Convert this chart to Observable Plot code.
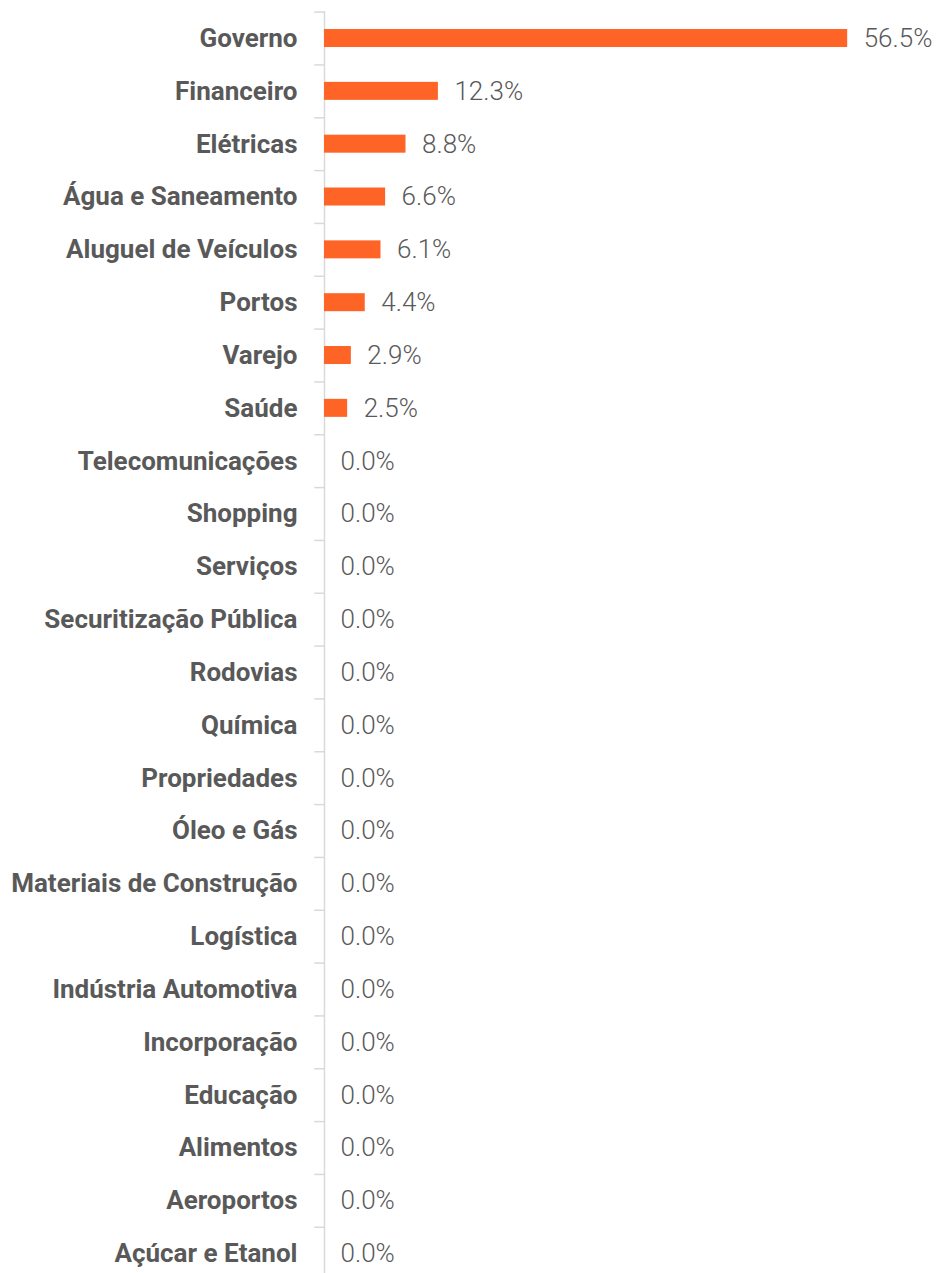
<!DOCTYPE html>
<html>
<head>
<meta charset="utf-8">
<script src="https://cdn.jsdelivr.net/npm/d3@7"></script>
<script src="https://cdn.jsdelivr.net/npm/@observablehq/plot@0.6"></script>
<style>
  html, body { margin: 0; padding: 0; background: #fff; overflow: hidden; }
  #chart { width: 936px; height: 1273px; }
</style>
</head>
<body>
<div id="chart"></div>
<script>
const categories = [
  "Governo", "Financeiro", "Elétricas", "Água e Saneamento", "Aluguel de Veículos",
  "Portos", "Varejo", "Saúde", "Telecomunicações", "Shopping", "Serviços",
  "Securitização Pública", "Rodovias", "Química", "Propriedades", "Óleo e Gás",
  "Materiais de Construção", "Logística", "Indústria Automotiva", "Incorporação",
  "Educação", "Alimentos", "Aeroportos", "Açúcar e Etanol"
];
const values = [56.5, 12.3, 8.8, 6.6, 6.1, 4.4, 2.9, 2.5, 0, 0, 0, 0, 0, 0, 0, 0, 0, 0, 0, 0, 0, 0, 0, 0];

const data = categories.map((c, i) => ({category: c, value: values[i]}));

const W = 936, H = 1273;
const yTop = 11.6, yBottom = 1279.6;
const step = (yBottom - yTop) / categories.length;
const barH = 18;
const x0 = 324, pxPerUnit = 9.26;
const xMax = 65;

const chart = Plot.plot({
  width: W,
  height: H,
  marginLeft: x0,
  marginTop: 11,
  marginBottom: 0,
  marginRight: 0,
  style: {color: "#595959", fontFamily: "Roboto, 'Noto Sans', sans-serif", background: "#fff"},
  x: {domain: [0, xMax], range: [x0, x0 + xMax * pxPerUnit], axis: null},
  y: {domain: categories, range: [yTop, yBottom], padding: 0, round: false, axis: null},
  marks: [
    Plot.ruleX([0], {stroke: "#d9d9d9", strokeWidth: 1.5}),
    Plot.ruleY(categories, {y: d => d, x1: -1.05, x2: 0, stroke: "#d9d9d9", strokeWidth: 1.5, dy: -step / 2}),
    Plot.barX(data, {x: "value", y: "category", fill: "#FF6427", insetTop: (step - barH) / 2, insetBottom: (step - barH) / 2}),
    Plot.text(data, {x: "value", y: "category", text: d => d.value.toFixed(1) + "%", dx: 16, textAnchor: "start", fontSize: 26, fontWeight: 300, fill: "#595959"}),
    Plot.axisY({tickSize: 0, tickPadding: 27, fontSize: 26, fontWeight: 700, fill: "#595959", label: null})
  ]
});
document.getElementById("chart").append(chart);
</script>
</body>
</html>
